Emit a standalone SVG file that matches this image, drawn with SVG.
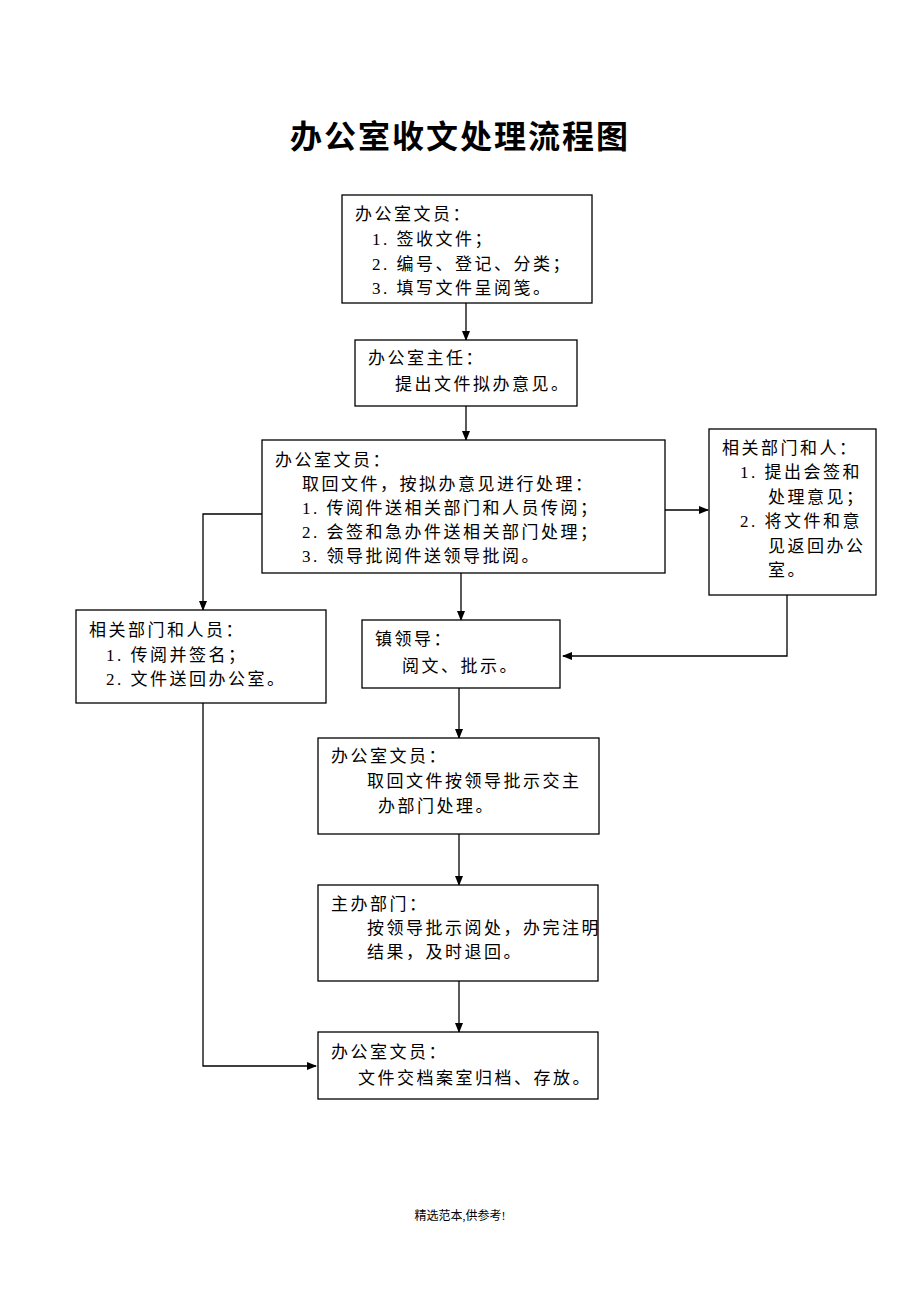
<svg xmlns="http://www.w3.org/2000/svg" width="920" height="1302" viewBox="0 0 920 1302">
<style>
rect{fill:#fff;stroke:#000;stroke-width:1.3}
text{font-family:"Liberation Serif","Noto Sans CJK SC",serif;font-size:17px;letter-spacing:2.5px;fill:#000}
.c line,.c polyline{stroke:#000;stroke-width:1.3;fill:none;marker-end:url(#a)}
</style>
<defs><marker id="a" markerWidth="10" markerHeight="8" refX="9" refY="4" orient="auto" markerUnits="userSpaceOnUse"><path d="M0,0L10,4L0,8z" fill="#000"/></marker></defs>
<rect x="0" y="0" width="920" height="1302" style="stroke:none"/>
<text x="460" y="148" text-anchor="middle" style="font-size:32px;font-weight:bold;letter-spacing:2px">办公室收文处理流程图</text>
<g class="c">
<line x1="466" y1="303" x2="466" y2="340"/>
<line x1="466" y1="406" x2="466" y2="440"/>
<line x1="665" y1="510" x2="708" y2="510"/>
<polyline points="787,595 787,656 563,656"/>
<polyline points="262,514 203,514 203,610"/>
<polyline points="203,703 203,1066 316,1066"/>
<line x1="461" y1="573" x2="461" y2="620"/>
<line x1="459" y1="688" x2="459" y2="738"/>
<line x1="459" y1="834" x2="459" y2="885"/>
<line x1="459" y1="981" x2="459" y2="1032"/>
</g>
<g id="n1"><rect x="342" y="195" width="250" height="108"/><text x="355" y="220">办公室文员：</text><text x="372" y="245">1. 签收文件；</text><text x="372" y="270">2. 编号、登记、分类；</text><text x="372" y="294">3. 填写文件呈阅笺。</text></g>
<g id="n2"><rect x="355" y="340" width="222" height="66"/><text x="368" y="364">办公室主任：</text><text x="395" y="390">提出文件拟办意见。</text></g>
<g id="n3"><rect x="262" y="440" width="403" height="133"/><text x="275" y="466">办公室文员：</text><text x="302" y="490">取回文件，按拟办意见进行处理：</text><text x="302" y="514">1. 传阅件送相关部门和人员传阅；</text><text x="302" y="538">2. 会签和急办件送相关部门处理；</text><text x="302" y="562">3. 领导批阅件送领导批阅。</text></g>
<g id="n4"><rect x="709" y="429" width="167" height="166"/><text x="722" y="454">相关部门和人：</text><text x="740" y="478">1. 提出会签和</text><text x="768" y="503">处理意见；</text><text x="740" y="527">2. 将文件和意</text><text x="768" y="552">见返回办公</text><text x="768" y="576">室。</text></g>
<g id="n5"><rect x="76" y="610" width="250" height="93"/><text x="89" y="636">相关部门和人员：</text><text x="106" y="661">1. 传阅并签名；</text><text x="106" y="685">2. 文件送回办公室。</text></g>
<g id="n6"><rect x="362" y="620" width="198" height="68"/><text x="375" y="645">镇领导：</text><text x="402" y="672">阅文、批示。</text></g>
<g id="n7"><rect x="318" y="738" width="281" height="96"/><text x="331" y="762">办公室文员：</text><text x="367" y="787">取回文件按领导批示交主</text><text x="378" y="812">办部门处理。</text></g>
<g id="n8"><rect x="318" y="885" width="280" height="96"/><text x="331" y="910">主办部门：</text><text x="367" y="934">按领导批示阅处，办完注明</text><text x="367" y="958">结果，及时退回。</text></g>
<g id="n9"><rect x="318" y="1032" width="280" height="67"/><text x="331" y="1058">办公室文员：</text><text x="358" y="1084">文件交档案室归档、存放。</text></g>
<text x="460" y="1220" text-anchor="middle" style="font-size:12px;letter-spacing:0">精选范本,供参考!</text>
</svg>
